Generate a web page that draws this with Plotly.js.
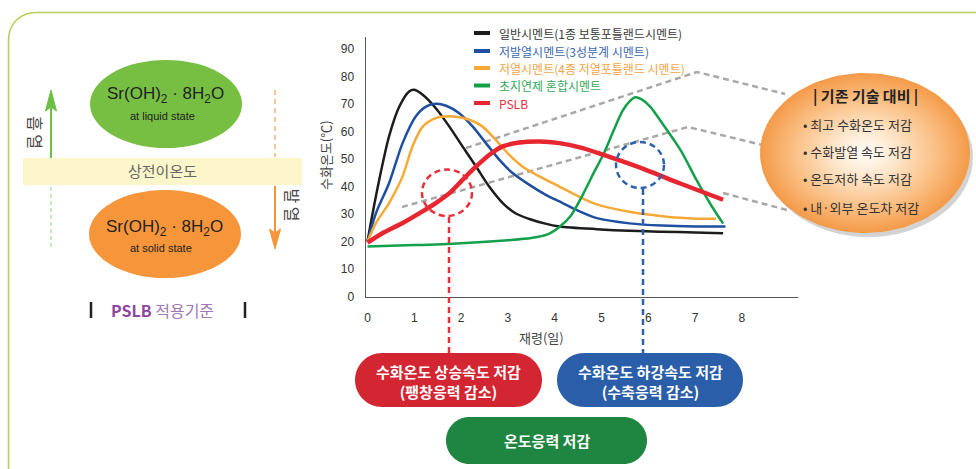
<!DOCTYPE html>
<html>
<head>
<meta charset="utf-8">
<script src="https://cdn.plot.ly/plotly-3.0.1.min.js"></script>
<style>html,body{margin:0;padding:0;background:#fff;}#chart{width:976px;height:469px;}</style>
</head>
<body>
<div id="chart"></div>
<script>
// ---------- data ----------
const seriesNames = [
  '일반시멘트(1종 보통포틀랜드시멘트)',
  '저발열시멘트(3성분계 시멘트)',
  '저열시멘트(4종 저열포틀랜드 시멘트)',
  '초지연제 혼합시멘트',
  'PSLB'
];
const lineColors = ['#1c1c1c', '#1f4fa0', '#f8a935', '#12a04a', '#e8262f'];
const legendTextColors = ['#3a3a3a', '#3b68b3', '#f4a447', '#33a85a', '#e8303a'];
const lineWidths = [2.5, 2.5, 2.5, 2.5, 4.5];

const daysBlack = [0, 0.11, 0.25, 0.46, 0.68, 0.89, 1.0, 1.18, 1.46, 1.75, 2.03, 2.32, 2.6, 2.89, 3.17, 3.46, 3.8, 4.1, 4.9, 5.6, 6.3, 7.0, 7.6];
const tempBlack = [20, 30.3, 42.4, 58.2, 69.1, 74.6, 75.2, 73.4, 68.5, 61.8, 54.6, 47.3, 40, 34, 30.2, 28.2, 26.5, 25.5, 24.5, 23.9, 23.6, 23.3, 23];

const daysBlue = [0, 0.18, 0.46, 0.75, 1.03, 1.25, 1.46, 1.68, 1.96, 2.25, 2.53, 2.82, 3.1, 3.46, 3.81, 4.17, 4.5, 4.9, 5.6, 6.3, 7.0, 7.65];
const tempBlue = [20, 30.3, 41.2, 55.8, 65.5, 69.1, 70.1, 69.4, 66.7, 61.8, 55.8, 49.7, 44.9, 40.6, 37, 34, 31.2, 28.5, 26.6, 25.8, 25.5, 25.5];

const daysOrange = [0, 0.18, 0.46, 0.75, 0.96, 1.18, 1.46, 1.82, 2.18, 2.46, 2.74, 3.03, 3.31, 3.67, 4.1, 4.5, 4.9, 5.6, 6.3, 7.0, 7.45];
const tempOrange = [20, 26.7, 34, 43.7, 54.6, 61.8, 64.9, 65.5, 64.3, 61.8, 57, 51.5, 47.3, 43.7, 40, 36.5, 33.5, 30.8, 29.2, 28.3, 28.3];

const daysGreen = [0, 1, 2, 3, 3.5, 3.85, 4.1, 4.35, 4.6, 4.85, 5.05, 5.25, 5.45, 5.6, 5.72, 5.85, 6.04, 6.32, 6.7, 7.03, 7.35, 7.6];
const tempGreen = [18.2, 18.7, 19.4, 20.5, 21.3, 22.6, 25.3, 29.5, 37, 45.5, 52, 60, 67.5, 71, 72.5, 71.8, 69.1, 62.5, 53, 42.4, 33, 26.5];

const daysPslb = [0, 0.32, 0.75, 1.11, 1.46, 1.75, 2.03, 2.32, 2.6, 2.89, 3.24, 3.67, 4.1, 4.6, 5.25, 5.96, 6.67, 7.6];
const tempPslb = [19.6, 23, 26.7, 30.3, 34, 37.6, 42.4, 47.3, 51.5, 54.6, 56, 56.4, 55.8, 54, 50.3, 46, 41.2, 35.2];

const xTickVals = [0, 1, 2, 3, 4, 5, 6, 7, 8];
const yTickVals = [0, 10, 20, 30, 40, 50, 60, 70, 80, 90];

const xTitle = '재령(일)';
const yTitle = '수화온도(℃)';
const compareTitle = '| 기존 기술 대비 |';
const compareItems = ['• 최고 수화온도 저감', '• 수화발열 속도 저감', '• 온도저하 속도 저감', '• 내·외부 온도차 저감'];
const pillTexts = ['수화온도 상승속도 저감<br>(팽창응력 감소)', '수화온도 하강속도 저감<br>(수축응력 감소)', '온도응력 저감'];

// ---------- helpers ----------
const KR = 'Noto Sans CJK KR';
const K = 0.5523;
function pillPath(x0, y0, x1, y1) {
  const r = (y1 - y0) / 2, m = y0 + r, k = K * r;
  return `M${x0 + r},${y0} L${x1 - r},${y0} C${x1 - r + k},${y0} ${x1},${m - k} ${x1},${m} ` +
         `C${x1},${m + k} ${x1 - r + k},${y1} ${x1 - r},${y1} L${x0 + r},${y1} ` +
         `C${x0 + r - k},${y1} ${x0},${m + k} ${x0},${m} C${x0},${m - k} ${x0 + r - k},${y0} ${x0 + r},${y0} Z`;
}
function ellipsePts(cx, cy, rx, ry, n) {
  const xs = [], ys = [];
  for (let i = 0; i <= n; i++) {
    const t = 2 * Math.PI * i / n;
    xs.push(cx + rx * Math.cos(t)); ys.push(cy + ry * Math.sin(t));
  }
  return {xs, ys};
}
function line(x0, y0, x1, y1, color, width, dash, layer) {
  return {type: 'line', xref: 'x', yref: 'y', x0, y0, x1, y1, layer: layer || 'above',
          line: {color, width, dash: dash || 'solid'}};
}
function note(x, y, text, size, color, opts) {
  return Object.assign({xref: 'x', yref: 'y', x, y, text, showarrow: false,
    font: {family: KR, size, color}, xanchor: 'center', yanchor: 'middle'}, opts || {});
}

// ---------- traces ----------
const seriesX = [daysBlack, daysBlue, daysOrange, daysGreen, daysPslb];
const seriesY = [tempBlack, tempBlue, tempOrange, tempGreen, tempPslb];

const traces = [];
// right gradient ellipse (decoration, pixel subplot)
const ell = ellipsePts(865, 153, 105, 80, 120);
traces.push({
  x: ell.xs, y: ell.ys, xaxis: 'x', yaxis: 'y', type: 'scatter', mode: 'lines',
  fill: 'toself', line: {width: 0, color: 'rgba(0,0,0,0)'}, hoverinfo: 'skip',
  fillgradient: {type: 'radial', colorscale: [[0, '#fffdf9'], [0.3, '#fee7cc'], [0.7, '#fabd80'], [1, '#f49a48']]}
});
for (let i = 0; i < seriesNames.length; i++) {
  traces.push({
    x: seriesX[i], y: seriesY[i], name: seriesNames[i], type: 'scatter', mode: 'lines',
    xaxis: 'x2', yaxis: 'y2',
    line: {color: lineColors[i], width: lineWidths[i], shape: 'spline', smoothing: 0.8}
  });
}

// ---------- shapes ----------
const shapes = [];
// outer frame
shapes.push({type: 'path', xref: 'x', yref: 'y', layer: 'below',
  path: 'M8.5,470 L8.5,40 C8.5,24 20,12.5 36,12.5 L977,12.5',
  line: {color: '#b8cf5c', width: 1.6}});
// gray dashed guide lines to the comparison ellipse
const gray = '#a8a8a8';
shapes.push({type: 'path', xref: 'x', yref: 'y', layer: 'below', path: 'M466,148 L697,72 L785,94', line: {color: gray, width: 2.5, dash: '6px,4px'}});
shapes.push({type: 'path', xref: 'x', yref: 'y', layer: 'below', path: 'M402,207 L688,127 L775,148', line: {color: gray, width: 2.5, dash: '6px,4px'}});
shapes.push({type: 'path', xref: 'x', yref: 'y', layer: 'below', path: 'M723,193 L787,210', line: {color: gray, width: 2.5, dash: '6px,4px'}});
// ellipse shadow
shapes.push({type: 'circle', xref: 'x', yref: 'y', layer: 'below', x0: 764, x1: 973, y0: 78, y1: 237,
  fillcolor: 'rgba(110,110,110,0.3)', line: {width: 0}});

// left panel
shapes.push({type: 'rect', xref: 'x', yref: 'y', layer: 'below', x0: 23, x1: 302, y0: 158, y1: 185, fillcolor: '#fdf6cb', line: {width: 0}});
shapes.push({type: 'circle', xref: 'x', yref: 'y', layer: 'above', x0: 90, x1: 242, y0: 60, y1: 148, fillcolor: '#77bf43', line: {width: 0}});
shapes.push({type: 'circle', xref: 'x', yref: 'y', layer: 'above', x0: 89, x1: 241, y0: 190, y1: 278, fillcolor: '#f7953b', line: {width: 0}});
// green (absorb) arrow
shapes.push(line(51, 158, 51, 106, '#6dbf46', 2));
shapes.push(line(51, 187, 51, 250, '#b9e0a6', 1.5, '4px,3px'));
shapes.push({type: 'path', xref: 'x', yref: 'y', layer: 'above', path: 'M51,90 L56.5,111 L51,107 L45.5,111 Z', fillcolor: '#6dbf46', line: {color: '#6dbf46', width: 1}});
// orange (release) arrow
shapes.push(line(275, 90, 275, 157, '#f9b37a', 1.5, '5px,4px'));
shapes.push(line(275, 186, 275, 234, '#f7953b', 2));
shapes.push({type: 'path', xref: 'x', yref: 'y', layer: 'above', path: 'M275,249 L269.5,229 L275,233 L280.5,229 Z', fillcolor: '#f7953b', line: {color: '#f7953b', width: 1}});
// PSLB bars
shapes.push(line(91, 302, 91, 318, '#222', 2.5));
shapes.push(line(245, 302, 245, 318, '#222', 2.5));

// dashed circles and drop lines
shapes.push({type: 'circle', xref: 'x', yref: 'y', layer: 'above', x0: 422, x1: 472, y0: 169.5, y1: 216, line: {color: '#e8303a', width: 2.5, dash: '6px,4px'}});
shapes.push(line(449, 217, 449, 353, '#e8303a', 2.5, '6px,4px'));
shapes.push({type: 'circle', xref: 'x', yref: 'y', layer: 'above', x0: 616, x1: 664, y0: 142, y1: 188, line: {color: '#2f62ad', width: 2.5, dash: '6px,4px'}});
shapes.push(line(643, 189, 643, 353, '#2f62ad', 2.5, '6px,4px'));

// pills
shapes.push({type: 'path', xref: 'x', yref: 'y', layer: 'above', path: pillPath(355, 353, 542, 407), fillcolor: '#d32532', line: {width: 0}});
shapes.push({type: 'path', xref: 'x', yref: 'y', layer: 'above', path: pillPath(557, 353, 743, 407), fillcolor: '#2a5ea8', line: {width: 0}});
shapes.push({type: 'path', xref: 'x', yref: 'y', layer: 'above', path: pillPath(446, 417, 647, 464), fillcolor: '#1f8641', line: {width: 0}});

// manual legend
const legendY = [33, 51, 68, 85.5, 103];
for (let i = 0; i < seriesNames.length; i++) {
  shapes.push(line(474, legendY[i], 490, legendY[i], lineColors[i], 4));
}

// ---------- annotations ----------
const annotations = [];
for (let i = 0; i < seriesNames.length; i++) {
  annotations.push(note(497, legendY[i], seriesNames[i], 12, legendTextColors[i], {xanchor: 'left'}));
}
annotations.push(note(541, 337, xTitle, 13, '#444'));
annotations.push(note(325, 155, yTitle, 13, '#444', {textangle: -90}));

annotations.push(note(165, 95, 'Sr(OH)<sub>2</sub> · 8H<sub>2</sub>O', 17, '#222', {font: {family: 'Liberation Sans', size: 17, color: '#222'}}));
annotations.push(note(162, 116, 'at liquid state', 11, '#222', {font: {family: 'Liberation Sans', size: 11, color: '#222'}}));
annotations.push(note(164.5, 228, 'Sr(OH)<sub>2</sub> · 8H<sub>2</sub>O', 17, '#222', {font: {family: 'Liberation Sans', size: 17, color: '#222'}}));
annotations.push(note(161, 248, 'at solid state', 11, '#222', {font: {family: 'Liberation Sans', size: 11, color: '#222'}}));
annotations.push(note(162, 170, '상전이온도', 15, '#666'));
annotations.push(note(36, 132, '흡 열', 16, '#444', {textangle: 90}));
annotations.push(note(292.5, 205, '발 열', 16, '#444', {textangle: 90}));
annotations.push(note(162, 310, '<b>PSLB</b> <span style="color:#a376b4">적용기준</span>', 16, '#8e47a0'));

annotations.push(note(865, 96, '<b>' + compareTitle + '</b>', 15, '#222'));
const itemY = [124, 151, 178.5, 207];
for (let i = 0; i < compareItems.length; i++) {
  annotations.push(note(801, itemY[i], compareItems[i], 13, '#333', {xanchor: 'left'}));
}

const pillCenters = [[448.5, 381], [650, 381], [546.5, 440.5]];
for (let i = 0; i < pillTexts.length; i++) {
  annotations.push(note(pillCenters[i][0], pillCenters[i][1], '<b>' + pillTexts[i] + '</b>', 15, '#ffffff'));
}

// ---------- layout ----------
const tickFont = {family: 'Liberation Sans', size: 12, color: '#333'};
const layout = {
  width: 976, height: 469,
  margin: {l: 0, r: 0, t: 0, b: 0},
  paper_bgcolor: '#ffffff', plot_bgcolor: 'rgba(0,0,0,0)',
  showlegend: false, hovermode: false,
  xaxis: {domain: [0, 1], range: [0, 976], visible: false, fixedrange: true},
  yaxis: {domain: [0, 1], range: [469, 0], visible: false, fixedrange: true},
  xaxis2: {domain: [366 / 976, 798 / 976], range: [-0.032, 9.2], anchor: 'y2',
    showline: true, linecolor: '#555', linewidth: 1.5, ticks: '', showgrid: false, zeroline: false,
    tickmode: 'array', tickvals: xTickVals, ticklabelstandoff: 10, tickfont: tickFont, fixedrange: true},
  yaxis2: {domain: [1 - 296.5 / 469, 1 - 37 / 469], range: [0, 94.4], anchor: 'x2',
    showline: true, linecolor: '#555', linewidth: 1.5, ticks: '', showgrid: false, zeroline: false,
    tickmode: 'array', tickvals: yTickVals, ticklabelstandoff: 8, tickfont: tickFont, fixedrange: true},
  shapes, annotations
};

Plotly.newPlot('chart', traces, layout, {displayModeBar: false, staticPlot: true});
</script>
</body>
</html>
